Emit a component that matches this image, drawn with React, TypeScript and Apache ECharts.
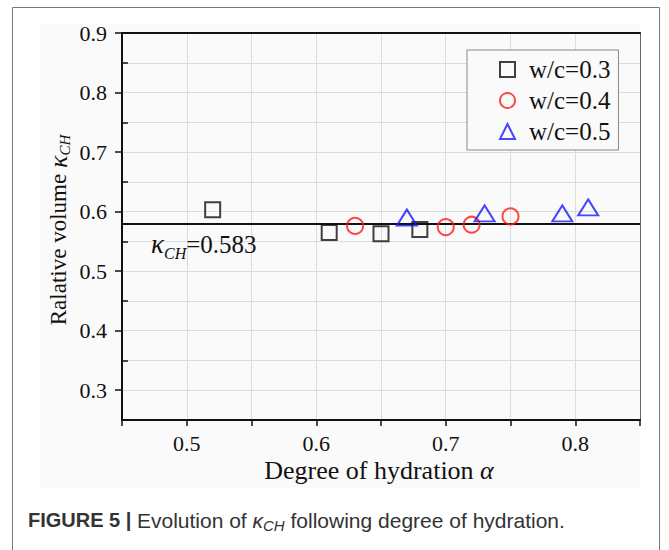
import React, { useEffect, useRef } from "react";
import * as echarts from "echarts";

const X_MIN = 0.45;
const X_MAX = 0.85;
const Y_MIN = 0.25;
const Y_MAX = 0.9;
const STEP = 0.05;
const yMajorValues = [0.3, 0.4, 0.5, 0.6, 0.7, 0.8, 0.9];
const yMinorValues = [0.35, 0.45, 0.55, 0.65, 0.75, 0.85];

const KAPPA_CH = 0.583;

const wc03X = [0.52, 0.61, 0.65, 0.68];
const wc03Y = [0.603, 0.565, 0.563, 0.57];
const wc04X = [0.63, 0.7, 0.72, 0.75];
const wc04Y = [0.576, 0.574, 0.578, 0.592];
const wc05X = [0.67, 0.73, 0.79, 0.81];
const wc05Y = [0.59, 0.597, 0.597, 0.607];

const seriesNames = ["w/c=0.3", "w/c=0.4", "w/c=0.5"];

const zip = (xs: number[], ys: number[]) => xs.map((x, i) => [x, ys[i]]);

const SERIF = "Liberation Serif";
const SANS = "Liberation Sans";
const f = (style: string, size: number, fam: string) => `${style} ${size}px '${fam}'`;

const majorFmt = (v: number) => {
  const t = v * 10;
  return Math.abs(t - Math.round(t)) < 1e-6 ? v.toFixed(1) : "";
};

type Run = { t: string; font: string; dy?: number; fill?: string };

let measureCtx: CanvasRenderingContext2D | null = null;
const measure = (font: string, text: string) => {
  if (!measureCtx) measureCtx = document.createElement("canvas").getContext("2d");
  if (!measureCtx) return text.length * 10;
  measureCtx.font = font;
  return measureCtx.measureText(text).width;
};

// lays text runs one after another, each a plain text element
const textRuns = (runs: Run[], x: number, y: number, opts: { center?: boolean; rotation?: number } = {}) => {
  const widths = runs.map((r) => measure(r.font, r.t));
  const total = widths.reduce((a, b) => a + b, 0);
  let cx = opts.center ? -total / 2 : 0;
  const children = runs.map((r, i) => {
    const el = {
      type: "text",
      x: cx,
      y: r.dy || 0,
      z: 20,
      silent: true,
      style: { text: r.t, font: r.font, fill: r.fill || "#111", align: "left", verticalAlign: "middle" },
    };
    cx += widths[i];
    return el;
  });
  return { type: "group", x, y, rotation: opts.rotation || 0, z: 20, children };
};

export default function App() {
  const ref = useRef<HTMLDivElement>(null);
  useEffect(() => {
    if (!ref.current) return;
    const chart = echarts.init(ref.current, null, { renderer: "svg" });
    const option: any = {
      animation: false,
      backgroundColor: "#ffffff",
      grid: { left: 122, right: 29, top: 33, bottom: 130, show: false },
      legend: {
        left: 467,
        top: 50,
        orient: "vertical",
        borderColor: "#888",
        borderWidth: 1,
        backgroundColor: "#fafafa",
        padding: [7, 8, 6, 32],
        itemGap: 6,
        itemWidth: 15,
        itemHeight: 15,
        textStyle: { fontFamily: SERIF, fontSize: 25, color: "#111", padding: [0, 0, 0, 9] },
        data: seriesNames,
      },
      xAxis: [
        {
          type: "value",
          min: X_MIN,
          max: X_MAX,
          interval: STEP,
          axisLine: { show: true, onZero: false, lineStyle: { color: "#111", width: 2 } },
          axisTick: { show: true, length: 6, lineStyle: { color: "#111", width: 1.5 } },
          axisLabel: {
            formatter: majorFmt,
            fontFamily: SERIF,
            fontSize: 22,
            color: "#111",
            margin: 12,
          },
          splitLine: { show: true, lineStyle: { color: "#dcdcdc", width: 1 } },
        },
        {
          type: "value",
          position: "top",
          min: X_MIN,
          max: X_MAX,
          interval: STEP,
          axisLine: { show: true, onZero: false, lineStyle: { color: "#111", width: 2 } },
          axisTick: { show: false },
          axisLabel: { show: false },
          splitLine: { show: false },
        },
      ],
      yAxis: [
        {
          type: "value",
          min: Y_MIN,
          max: Y_MAX,
          interval: STEP,
          axisLine: { show: true, onZero: false, lineStyle: { color: "#111", width: 2 } },
          axisTick: { show: false },
          axisLabel: {
            formatter: majorFmt,
            fontFamily: SERIF,
            fontSize: 22,
            color: "#111",
            margin: 15,
          },
          splitLine: { show: true, lineStyle: { color: "#dcdcdc", width: 1 } },
        },
        {
          type: "value",
          position: "left",
          min: Y_MIN,
          max: Y_MAX,
          interval: STEP,
          axisLine: { show: false },
          axisTick: { show: true, customValues: yMajorValues, length: 7, lineStyle: { color: "#111", width: 1.5 } },
          axisLabel: { show: false },
          splitLine: { show: false },
        },
        {
          type: "value",
          position: "left",
          min: Y_MIN,
          max: Y_MAX,
          interval: STEP,
          axisLine: { show: false },
          axisTick: { show: true, inside: true, customValues: yMinorValues, length: 6, lineStyle: { color: "#111", width: 1.5 } },
          axisLabel: { show: false },
          splitLine: { show: false },
        },
        {
          type: "value",
          position: "right",
          min: Y_MIN,
          max: Y_MAX,
          interval: STEP,
          axisLine: { show: true, onZero: false, lineStyle: { color: "#666", width: 1 } },
          axisTick: { show: false },
          axisLabel: { show: false },
          splitLine: { show: false },
        },
      ],
      series: [
        {
          name: seriesNames[0],
          type: "scatter",
          symbol: "rect",
          symbolSize: 15,
          itemStyle: { color: "rgba(0,0,0,0)", borderColor: "#111", borderWidth: 2 },
          data: zip(wc03X, wc03Y),
          z: 5,
          markLine: {
            silent: true,
            symbol: "none",
            label: { show: false },
            lineStyle: { color: "#111", width: 2, type: "solid" },
            data: [{ yAxis: KAPPA_CH }],
          },
        },
        {
          name: seriesNames[1],
          type: "scatter",
          symbol: "circle",
          symbolSize: 16,
          itemStyle: { color: "rgba(0,0,0,0)", borderColor: "#ff1a1a", borderWidth: 2 },
          data: zip(wc04X, wc04Y),
          z: 5,
        },
        {
          name: seriesNames[2],
          type: "scatter",
          symbol: "triangle",
          symbolSize: [20, 16],
          itemStyle: { color: "rgba(0,0,0,0)", borderColor: "#1a1aff", borderWidth: 2 },
          data: zip(wc05X, wc05Y),
          z: 5,
        },
      ],
      graphic: [
        {
          type: "rect",
          z: -10,
          silent: true,
          shape: { x: 40, y: 24, width: 600, height: 464 },
          style: { fill: "#fafafa" },
        },
        {
          type: "rect",
          z: -9,
          silent: true,
          shape: { x: 12.5, y: 7.5, width: 647, height: 600 },
          style: { fill: "none", stroke: "#777", lineWidth: 1 },
        },
        // x-axis name
        textRuns(
          [
            { t: "Degree of hydration ", font: f("normal", 26, SERIF) },
            { t: "α", font: f("italic", 26, SERIF) },
          ],
          379,
          470,
          { center: true }
        ),
        // y-axis name
        textRuns(
          [
            { t: "Ralative volume ", font: f("normal", 23, SERIF) },
            { t: "κ", font: f("italic", 26, SERIF) },
            { t: "CH", font: f("italic", 15, SERIF), dy: 7 },
          ],
          58,
          230,
          { center: true, rotation: Math.PI / 2 }
        ),
        // kappa annotation
        textRuns(
          [
            { t: "κ", font: f("italic", 27, SERIF) },
            { t: "CH", font: f("italic", 16, SERIF), dy: 9 },
            { t: "=0.583", font: f("normal", 25, SERIF) },
          ],
          151,
          244
        ),
        // caption
        textRuns(
          [
            { t: "FIGURE 5 | ", font: f("bold", 20, SANS), fill: "#333" },
            { t: "Evolution of ", font: f("normal", 21, SANS), fill: "#333" },
            { t: "κ", font: f("italic", 21, SANS), fill: "#333" },
            { t: "CH", font: f("italic", 15, SANS), fill: "#333", dy: 5 },
            { t: " following degree of hydration.", font: f("normal", 21, SANS), fill: "#333" },
          ],
          28,
          520
        ),
      ],
    };
    chart.setOption(option);
    return () => chart.dispose();
  }, []);
  return (
    <div style={{ position: "absolute", left: 0, top: 0, width: 669, height: 550, background: "#fff" }}>
      <div ref={ref} style={{ width: 669, height: 550 }} />
    </div>
  );
}
